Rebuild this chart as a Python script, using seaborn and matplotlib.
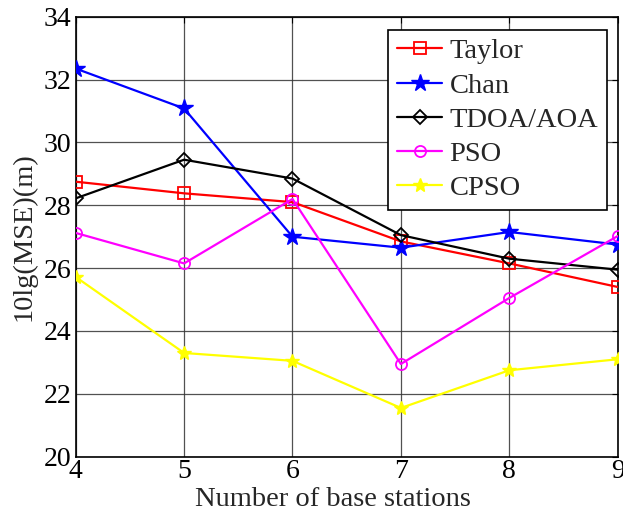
import matplotlib
matplotlib.use("Agg")
import matplotlib.pyplot as plt
import seaborn as sns
import pandas as pd

stations = [4, 5, 6, 7, 8, 9]
taylor = [28.75, 28.38, 28.1, 26.85, 26.15, 25.4]
chan = [32.35, 31.08, 27.0, 26.65, 27.15, 26.75]
tdoa_aoa = [28.22, 29.45, 28.85, 27.05, 26.3, 25.95]
pso = [27.12, 26.15, 28.2, 22.95, 25.05, 27.02]
cpso = [25.72, 23.3, 23.05, 21.55, 22.75, 23.1]

series_names = ["Taylor", "Chan", "TDOA/AOA", "PSO", "CPSO"]
series_values = [taylor, chan, tdoa_aoa, pso, cpso]
y_ticks = [20, 22, 24, 26, 28, 30, 32, 34]

styles = {
    "Taylor": dict(color="#ff0000", marker="s", mfc="none", ms=8, mew=1.3),
    "Chan": dict(color="#0000ff", marker="*", mfc="#0000ff", ms=13, mew=1.0),
    "TDOA/AOA": dict(color="#000000", marker="D", mfc="none", ms=7, mew=1.3),
    "PSO": dict(color="#ff00ff", marker="o", mfc="none", ms=8, mew=1.3),
    "CPSO": dict(color="#ffff00", marker="*", mfc="#ffff00", ms=10, mew=1.0),
}

df = pd.DataFrame(
    [(name, x, y) for name, vals in zip(series_names, series_values) for x, y in zip(stations, vals)],
    columns=["method", "stations", "mse"],
)

sns.set_theme(style="white")
plt.rcParams["font.family"] = ["Liberation Serif", "DejaVu Serif"]

fig = plt.figure(figsize=(6.23, 5.14), dpi=100)
ax = fig.add_axes([0.1215, 0.1115, 0.870, 0.856])

for name in series_names:
    sub = df[df["method"] == name]
    st = styles[name]
    sns.lineplot(data=sub, x="stations", y="mse", ax=ax, label=name,
                 color=st["color"], marker=st["marker"], markerfacecolor=st["mfc"],
                 markeredgecolor=st["color"], markersize=st["ms"], markeredgewidth=st["mew"],
                 linewidth=1.6, zorder=3)

ax.set_xlim(4, 9)
ax.set_ylim(20, 34)
ax.set_xticks(stations)
ax.set_yticks(y_ticks)
ax.grid(True, color="#333333", linewidth=0.9, alpha=0.85)
ax.tick_params(direction="in", length=4, width=0.8, labelsize=20, top=True, right=True,
               colors="black")
ax.tick_params(axis="x", pad=2)
ax.tick_params(axis="y", pad=3)
for sp in ax.spines.values():
    sp.set_color("black")
    sp.set_linewidth(1.2)

ax.set_xlabel("Number of base stations", fontsize=20.5, labelpad=2, x=0.475)
ax.set_ylabel("10lg(MSE)(m)", fontsize=20.5, labelpad=5)

leg = ax.legend(loc="upper right", bbox_to_anchor=(0.980, 0.970), fontsize=20.5, frameon=True,
                fancybox=False, edgecolor="black", framealpha=1, borderpad=0.3,
                labelspacing=0.29, handlelength=1.6, handletextpad=0.25, borderaxespad=0.0)
leg.get_frame().set_linewidth(1.2)

fig.savefig("out.png", dpi=100)
